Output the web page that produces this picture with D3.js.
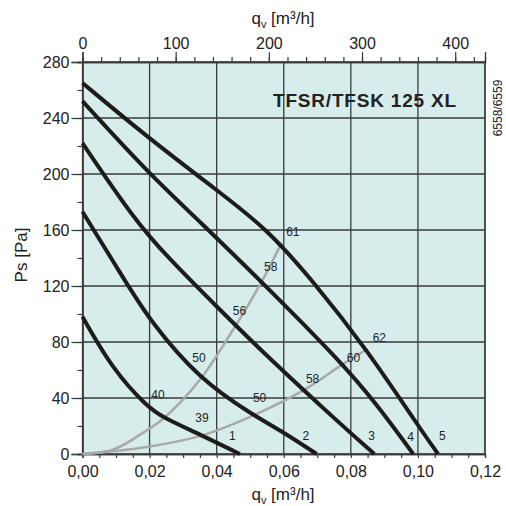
<!DOCTYPE html>
<html>
<head>
<meta charset="utf-8">
<script src="https://cdn.jsdelivr.net/npm/d3@7"></script>
<style>
  body { margin: 0; background: #fff; }
  svg text { font-family: "Liberation Sans", Arial, sans-serif; fill: #222; }
</style>
</head>
<body>
<div id="chart"></div>
<script>
// fan curves, qv [m3/s] vs Ps [Pa]
var curve1 = [[0,98],[0.0091,60],[0.0192,34],[0.024,26],[0.035,14],[0.0469,0]];
var curve2 = [[0,173],[0.0121,126],[0.0201,95],[0.035,53],[0.0507,28],[0.0596,16],[0.0698,0]];
var curve3 = [[0,222],[0.0156,167],[0.0252,141],[0.0401,105],[0.0549,70],[0.0766,22],[0.087,0]];
var curve4 = [[0,252],[0.0195,201],[0.035,166],[0.0534,123],[0.0766,67],[0.0876,36],[0.0986,0]];
var curve5 = [[0,265],[0.0195,226],[0.0403,188],[0.0549,161],[0.0686,124],[0.085,74],[0.1004,19],[0.106,0]];
var fanCurves = [curve1, curve2, curve3, curve4, curve5];
var fanNames = ["1", "2", "3", "4", "5"];
var fanNameAt = [[0.0447,13],[0.0666,13],[0.0862,13],[0.0978,12],[0.1073,13]];

// system curves (grey)
var systemA = [[0,0],[0.0091,3],[0.0192,17],[0.024,25],[0.035,53],[0.0452,90],[0.0534,123],[0.0594,151]];
var systemB = [[0,0],[0.0192,5],[0.0359,13.5],[0.0513,28],[0.0662,46],[0.0775,64],[0.085,75]];

// sound level labels along the system curves
var soundA = ["40", "50", "56", "58", "61"];
var soundAAt = [[0.0225,42],[0.0347,69],[0.0468,102],[0.0561,134],[0.0627,159]];
var soundB = ["39", "50", "58", "60", "62"];
var soundBAt = [[0.0356,26],[0.0528,40],[0.0686,54],[0.0808,69],[0.0885,83]];

var xTicks = [0, 0.02, 0.04, 0.06, 0.08, 0.10, 0.12];
var topTicks = [0, 100, 200, 300, 400];
var yTicks = [0, 40, 80, 120, 160, 200, 240, 280];

var w = 506, h = 506;
var pLeft = 82.5, pRight = 485, pTop = 62, pBottom = 454;

var x = d3.scaleLinear().domain([0, 0.12]).range([pLeft, pRight]);
var xTop = d3.scaleLinear().domain([0, 432]).range([pLeft, pRight]);
var y = d3.scaleLinear().domain([0, 280]).range([pBottom, pTop]);

var svg = d3.select("#chart").append("svg")
  .attr("width", w)
  .attr("height", h);

// plot background
svg.append("rect")
  .attr("x", pLeft).attr("y", pTop)
  .attr("width", pRight - pLeft).attr("height", pBottom - pTop)
  .attr("fill", "#d7edeb");

// grid
svg.append("g").selectAll("line")
  .data(xTicks)
  .enter().append("line")
  .attr("x1", function(d) { return x(d); })
  .attr("x2", function(d) { return x(d); })
  .attr("y1", pTop).attr("y2", pBottom)
  .attr("stroke", "#3a3a3a").attr("stroke-width", 1.3);

svg.append("g").selectAll("line")
  .data(yTicks)
  .enter().append("line")
  .attr("x1", pLeft).attr("x2", pRight)
  .attr("y1", function(d) { return y(d); })
  .attr("y2", function(d) { return y(d); })
  .attr("stroke", "#3a3a3a").attr("stroke-width", 1.3);

// axes
var fmtComma = function(d) { return d3.format(".2f")(d).replace(".", ","); };

var bottomAxis = svg.append("g")
  .attr("transform", "translate(0," + pBottom + ")")
  .call(d3.axisBottom(x).tickValues(d3.range(0, 0.1201, 0.005)).tickSize(4).tickFormat(""));
bottomAxis.append("g")
  .call(d3.axisBottom(x).tickValues(xTicks).tickSize(0).tickPadding(12).tickFormat(fmtComma));

var topAxis = svg.append("g")
  .attr("transform", "translate(0," + pTop + ")")
  .call(d3.axisTop(xTop).tickValues(d3.range(0, 432, 20)).tickSize(5).tickFormat(""));
topAxis.append("g")
  .call(d3.axisTop(xTop).tickValues(topTicks).tickSize(10).tickPadding(3));

var leftAxis = svg.append("g")
  .attr("transform", "translate(" + pLeft + ",0)")
  .call(d3.axisLeft(y).tickValues(d3.range(0, 281, 20)).tickSize(5).tickFormat(""));
leftAxis.append("g")
  .call(d3.axisLeft(y).tickValues(yTicks).tickSize(11).tickPadding(2));

svg.append("line")
  .attr("x1", pRight).attr("x2", pRight).attr("y1", pTop).attr("y2", pBottom)
  .attr("stroke", "#3a3a3a").attr("stroke-width", 1.3);

svg.selectAll(".domain").attr("stroke", "#3a3a3a").attr("stroke-width", 1.3);
svg.selectAll(".tick line").attr("stroke", "#3a3a3a").attr("stroke-width", 1.2);
svg.selectAll(".tick text").attr("font-size", 16).attr("fill", "#222")
  .attr("font-family", "Liberation Sans, Arial, sans-serif");

// lines
var greyLine = d3.line()
  .x(function(d) { return x(d[0]); })
  .y(function(d) { return y(d[1]); })
  .curve(d3.curveCatmullRom.alpha(0.5));

// fan curves read off by eye, smoothed so the reading noise doesn't kink them
var fanLine = d3.line()
  .x(function(d) { return x(d[0]); })
  .y(function(d) { return y(d[1]); })
  .curve(d3.curveBasis);

svg.append("g").selectAll("path")
  .data([systemA, systemB])
  .enter().append("path")
  .attr("d", greyLine)
  .attr("fill", "none")
  .attr("stroke", "#a9a9a9")
  .attr("stroke-width", 2.5);

svg.append("g").selectAll("path")
  .data(fanCurves)
  .enter().append("path")
  .attr("d", fanLine)
  .attr("fill", "none")
  .attr("stroke", "#1c1c1c")
  .attr("stroke-width", 4);

// small labels
function smallLabels(names, at) {
  svg.append("g").selectAll("text")
    .data(names)
    .enter().append("text")
    .attr("x", function(d, i) { return x(at[i][0]); })
    .attr("y", function(d, i) { return y(at[i][1]); })
    .attr("dy", "0.35em")
    .attr("text-anchor", "middle")
    .attr("font-size", 12)
    .text(function(d) { return d; });
}
smallLabels(soundA, soundAAt);
smallLabels(soundB, soundBAt);
smallLabels(fanNames, fanNameAt);

// title
svg.append("text")
  .attr("x", 273).attr("y", 107)
  .attr("font-size", 19)
  .attr("font-weight", "bold")
  .attr("letter-spacing", 0.8)
  .text("TFSR/TFSK 125 XL");

// axis titles
function qvLabel(cx, cy) {
  var t = svg.append("text")
    .attr("x", cx).attr("y", cy)
    .attr("text-anchor", "middle")
    .attr("font-size", 17);
  t.append("tspan").text("q");
  t.append("tspan").attr("font-size", 11).attr("dy", 4).text("v");
  t.append("tspan").attr("dy", -4).text(" [m³/h]");
}
qvLabel(283, 24);
qvLabel(283, 500);

svg.append("text")
  .attr("transform", "translate(27,255) rotate(-90)")
  .attr("text-anchor", "middle")
  .attr("font-size", 17)
  .text("Ps [Pa]");

svg.append("text")
  .attr("transform", "translate(502,108) rotate(-90)")
  .attr("text-anchor", "middle")
  .attr("font-size", 12)
  .text("6558/6559");
</script>
</body>
</html>
